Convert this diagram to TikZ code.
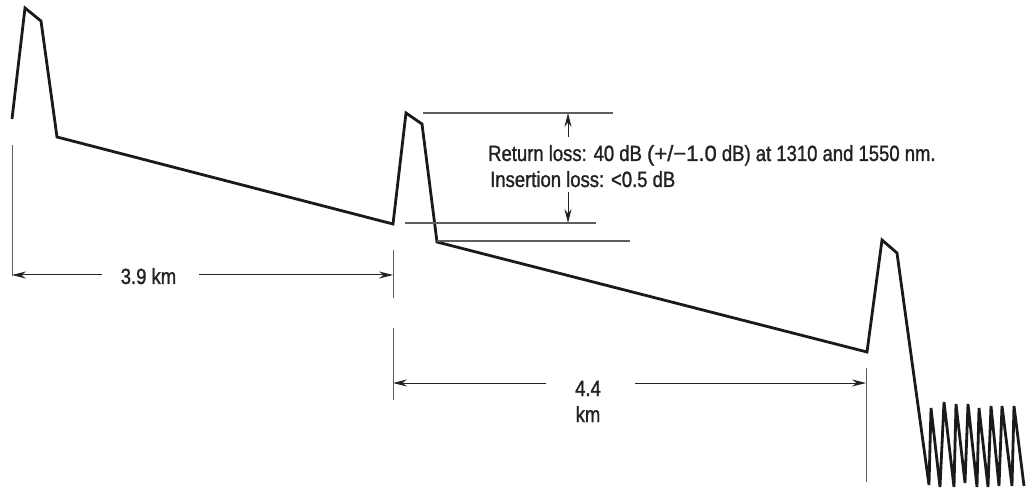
\documentclass[tikz,border=0pt]{standalone}
\usepackage{fontspec}
\setmainfont[FakeStretch=0.84,FakeBold=1.3]{Liberation Sans}
\newfontfamily\widefont[FakeBold=1.3]{Liberation Sans}
\usetikzlibrary{arrows.meta}
\definecolor{tracegray}{RGB}{26,26,26}
\definecolor{dimgray}{RGB}{95,95,95}
\definecolor{textgray}{RGB}{34,34,34}

\begin{document}
\begin{tikzpicture}[x=1pt,y=-1pt,>={Stealth[length=14pt,width=7pt]},
  trace/.style={tracegray,line width=2.8pt},
  dimline/.style={dimgray,line width=1pt},
  refline/.style={dimgray,line width=1.2pt},
  dimarrow/.style={->,textgray,line width=1pt},
  lbl/.style={font=\fontsize{22}{26}\selectfont,text=textgray,inner sep=0pt}]
\path[use as bounding box] (0,0) rectangle (1029,489);
% OTDR trace
\draw[trace] plot coordinates {(12,119)(25,8)(41,21)(57,137)(393,224)(406,113)(422,124)(437,242)
  (867,352)(882,240)(897,253)(929,485)(931,408)(940,487)(944,402)(954,487)(956,404)(965,483)
  (968,404)(977,487)(979,408)(988,487)(991,406)(999,486)(1002,406)(1012,486)(1014,406)(1024,486)};
% reference levels
\coordinate (h1a) at (423,113); \coordinate (h1b) at (613,113);
\coordinate (h2a) at (405,223); \coordinate (h2b) at (596,223);
\coordinate (h3a) at (437,241); \coordinate (h3b) at (630,241);
\draw[refline] (h1a) -- (h1b);
\draw[refline] (h2a) -- (h2b);
\draw[refline] (h3a) -- (h3b);
\node[lbl,anchor=base west] (retloss) at (488,161) {Return loss: 40 dB {\widefont(+/−1.0} dB) at 1310 and 1550 nm.};
\node[lbl,anchor=base west] (insloss) at (490,187) {Insertion loss: <0.5 dB};
\coordinate (up0) at (568,137);
\coordinate (dn0) at (568,192);
\draw[dimarrow] (up0) -- (up0 |- h1a);
\draw[dimarrow] (dn0) -- (dn0 |- h2a);
% distance markers
\coordinate (v0a) at (12,145);  \coordinate (v0b) at (12,276);
\coordinate (v1a) at (393,250); \coordinate (v1b) at (393,298);
\coordinate (v2a) at (393,328); \coordinate (v2b) at (393,400);
\coordinate (v3a) at (866,368); \coordinate (v3b) at (866,482);
\draw[dimline] (v0a) -- (v0b);
\draw[dimline] (v1a) -- (v1b);
\draw[dimline] (v2a) -- (v2b);
\draw[dimline] (v3a) -- (v3b);
\node[lbl,anchor=base] (d39) at (148.5,284) {3.9 km};
\coordinate (d39l) at (102,275); \coordinate (d39r) at (199,275);
\draw[dimarrow] (d39l) -- (d39l -| v0a);
\draw[dimarrow] (d39r) -- (d39r -| v1a);
\node[lbl,anchor=base] (d44) at (588,396) {4.4};
\node[lbl,anchor=base] (d44km) at (588,422) {km};
\coordinate (d44l) at (546,383); \coordinate (d44r) at (635,383);
\draw[dimarrow] (d44l) -- (d44l -| v2a);
\draw[dimarrow] (d44r) -- (d44r -| v3a);
\end{tikzpicture}
\end{document}
